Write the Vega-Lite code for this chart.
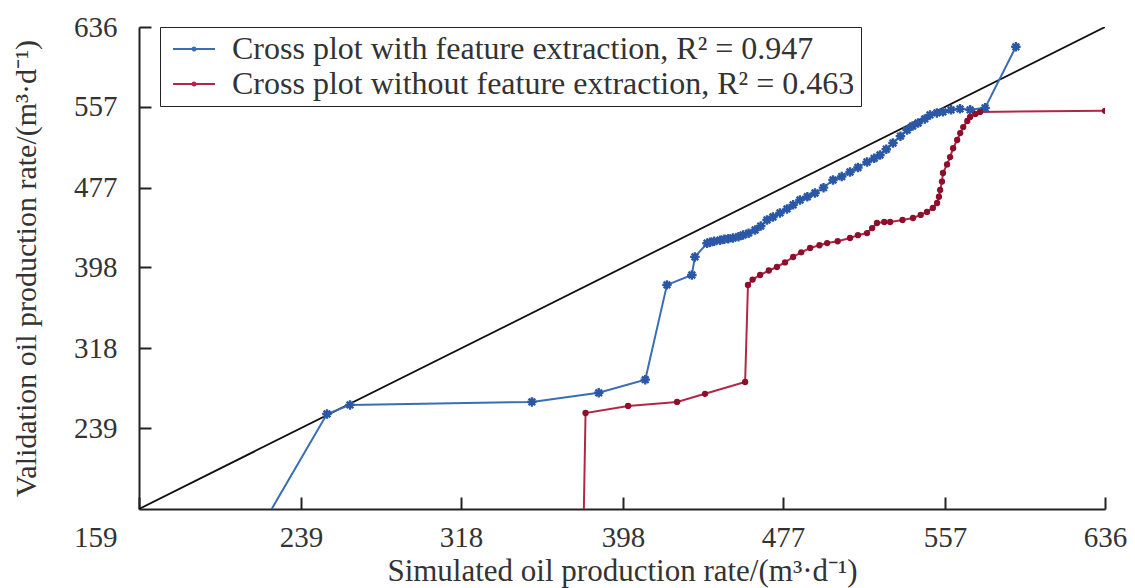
{
  "$schema": "https://vega.github.io/schema/vega-lite/v6.json",
  "width": 966,
  "height": 482,
  "autosize": "none",
  "padding": {"left": 139, "top": 27, "right": 30, "bottom": 79},
  "background": "white",
  "config": {
    "view": {"stroke": null},
    "font": "Liberation Serif",
    "axis": {
      "grid": false,
      "domainColor": "#222",
      "domainWidth": 2,
      "tickColor": "#222",
      "tickWidth": 2,
      "tickSize": -12,
      "labelFont": "Liberation Serif",
      "labelFontSize": 29,
      "labelColor": "#333",
      "titleFont": "Liberation Serif",
      "titleFontWeight": "normal",
      "titleColor": "#333"
    }
  },
  "datasets": {
    "pts": [
      {"series": "with", "i": 0, "sim": 219, "val": 140},
      {"series": "with", "i": 1, "sim": 251.8, "val": 253},
      {"series": "with", "i": 2, "sim": 263.2, "val": 262},
      {"series": "with", "i": 3, "sim": 353, "val": 265},
      {"series": "with", "i": 4, "sim": 386, "val": 274},
      {"series": "with", "i": 5, "sim": 409, "val": 287},
      {"series": "with", "i": 6, "sim": 419.7, "val": 380.8},
      {"series": "with", "i": 7, "sim": 432, "val": 390.6},
      {"series": "with", "i": 8, "sim": 433.5, "val": 408.5},
      {"series": "with", "i": 9, "sim": 439.5, "val": 422},
      {"series": "with", "i": 10, "sim": 441, "val": 423},
      {"series": "with", "i": 11, "sim": 443, "val": 424},
      {"series": "with", "i": 12, "sim": 445.9, "val": 425},
      {"series": "with", "i": 13, "sim": 448, "val": 426},
      {"series": "with", "i": 14, "sim": 450, "val": 426.5},
      {"series": "with", "i": 15, "sim": 452.3, "val": 427.2},
      {"series": "with", "i": 16, "sim": 455, "val": 428.5},
      {"series": "with", "i": 17, "sim": 457.3, "val": 430.2},
      {"series": "with", "i": 18, "sim": 460, "val": 432},
      {"series": "with", "i": 19, "sim": 463.2, "val": 435.1},
      {"series": "with", "i": 20, "sim": 466, "val": 439},
      {"series": "with", "i": 21, "sim": 469.1, "val": 445},
      {"series": "with", "i": 22, "sim": 472, "val": 448},
      {"series": "with", "i": 23, "sim": 475.5, "val": 452},
      {"series": "with", "i": 24, "sim": 479, "val": 456},
      {"series": "with", "i": 25, "sim": 482, "val": 460},
      {"series": "with", "i": 26, "sim": 485.4, "val": 464.8},
      {"series": "with", "i": 27, "sim": 489, "val": 468},
      {"series": "with", "i": 28, "sim": 492.8, "val": 471.7},
      {"series": "with", "i": 29, "sim": 497, "val": 477},
      {"series": "with", "i": 30, "sim": 501.7, "val": 484.6},
      {"series": "with", "i": 31, "sim": 506, "val": 488},
      {"series": "with", "i": 32, "sim": 510.1, "val": 492.5},
      {"series": "with", "i": 33, "sim": 514, "val": 497},
      {"series": "with", "i": 34, "sim": 518.5, "val": 502.4},
      {"series": "with", "i": 35, "sim": 522, "val": 506},
      {"series": "with", "i": 36, "sim": 524.9, "val": 509.3},
      {"series": "with", "i": 37, "sim": 528, "val": 515},
      {"series": "with", "i": 38, "sim": 531.3, "val": 521.2},
      {"series": "with", "i": 39, "sim": 535, "val": 528},
      {"series": "with", "i": 40, "sim": 538.3, "val": 534},
      {"series": "with", "i": 41, "sim": 541, "val": 538},
      {"series": "with", "i": 42, "sim": 543.7, "val": 541},
      {"series": "with", "i": 43, "sim": 547, "val": 545},
      {"series": "with", "i": 44, "sim": 549.6, "val": 549},
      {"series": "with", "i": 45, "sim": 553, "val": 551},
      {"series": "with", "i": 46, "sim": 556, "val": 552},
      {"series": "with", "i": 47, "sim": 560, "val": 554},
      {"series": "with", "i": 48, "sim": 564.4, "val": 555},
      {"series": "with", "i": 49, "sim": 569.4, "val": 554},
      {"series": "with", "i": 50, "sim": 576.8, "val": 556},
      {"series": "with", "i": 51, "sim": 592, "val": 616.4},
      {"series": "without", "i": 0, "sim": 378.5, "val": 140},
      {"series": "without", "i": 1, "sim": 379.5, "val": 254},
      {"series": "without", "i": 2, "sim": 400.5, "val": 261},
      {"series": "without", "i": 3, "sim": 424.7, "val": 265},
      {"series": "without", "i": 4, "sim": 438.5, "val": 273},
      {"series": "without", "i": 5, "sim": 458.3, "val": 284.7},
      {"series": "without", "i": 6, "sim": 459.7, "val": 380.8},
      {"series": "without", "i": 7, "sim": 462, "val": 386},
      {"series": "without", "i": 8, "sim": 465.7, "val": 390.6},
      {"series": "without", "i": 9, "sim": 470, "val": 395},
      {"series": "without", "i": 10, "sim": 474, "val": 398.5},
      {"series": "without", "i": 11, "sim": 478, "val": 403},
      {"series": "without", "i": 12, "sim": 482, "val": 408.4},
      {"series": "without", "i": 13, "sim": 486, "val": 413},
      {"series": "without", "i": 14, "sim": 490.4, "val": 417.3},
      {"series": "without", "i": 15, "sim": 495, "val": 420},
      {"series": "without", "i": 16, "sim": 498.8, "val": 422.2},
      {"series": "without", "i": 17, "sim": 504, "val": 424},
      {"series": "without", "i": 18, "sim": 510.1, "val": 427.2},
      {"series": "without", "i": 19, "sim": 514, "val": 430},
      {"series": "without", "i": 20, "sim": 518.5, "val": 432.1},
      {"series": "without", "i": 21, "sim": 521, "val": 437},
      {"series": "without", "i": 22, "sim": 523.4, "val": 442},
      {"series": "without", "i": 23, "sim": 527, "val": 443},
      {"series": "without", "i": 24, "sim": 529.9, "val": 443},
      {"series": "without", "i": 25, "sim": 536, "val": 445},
      {"series": "without", "i": 26, "sim": 541.2, "val": 447},
      {"series": "without", "i": 27, "sim": 545, "val": 450},
      {"series": "without", "i": 28, "sim": 548.1, "val": 453},
      {"series": "without", "i": 29, "sim": 551, "val": 457},
      {"series": "without", "i": 30, "sim": 553.1, "val": 461.8},
      {"series": "without", "i": 31, "sim": 554, "val": 468},
      {"series": "without", "i": 32, "sim": 554.6, "val": 474.7},
      {"series": "without", "i": 33, "sim": 555.5, "val": 483},
      {"series": "without", "i": 34, "sim": 556, "val": 491.5},
      {"series": "without", "i": 35, "sim": 558, "val": 500},
      {"series": "without", "i": 36, "sim": 559.5, "val": 507.3},
      {"series": "without", "i": 37, "sim": 561, "val": 516},
      {"series": "without", "i": 38, "sim": 563, "val": 524.2},
      {"series": "without", "i": 39, "sim": 564.5, "val": 531},
      {"series": "without", "i": 40, "sim": 566, "val": 537},
      {"series": "without", "i": 41, "sim": 568, "val": 543},
      {"series": "without", "i": 42, "sim": 569.4, "val": 547},
      {"series": "without", "i": 43, "sim": 572, "val": 550},
      {"series": "without", "i": 44, "sim": 574.3, "val": 552},
      {"series": "without", "i": 45, "sim": 636, "val": 553}
    ],
    "diag": [
      {"sim": 159, "val": 159},
      {"sim": 636, "val": 636}
    ]
  },
  "encoding": {
    "x": {
      "field": "sim", "type": "quantitative",
      "scale": {"domain": [159, 636], "nice": false, "zero": false},
      "axis": {
        "values": [159, 239, 318, 398, 477, 557, 636],
        "labelPadding": 26,
        "labelAlign": {"condition": {"test": "datum.value == 159", "value": "right"}, "value": "center"},
        "labelOffset": {"condition": {"test": "datum.value == 159", "value": -22}, "value": 0},
        "title": "Simulated oil production rate/(m³·d⁻¹)",
        "titleFontSize": 31,
        "titlePadding": 4
      }
    },
    "y": {
      "field": "val", "type": "quantitative",
      "scale": {"domain": [159, 636], "nice": false, "zero": false},
      "axis": {
        "values": [239, 318, 398, 477, 557, 636],
        "labelPadding": 34,
        "title": "Validation oil production rate/(m³·d⁻¹)",
        "titleFontSize": 30,
        "titlePadding": 32
      }
    }
  },
  "layer": [
    {
      "data": {"name": "diag"},
      "mark": {"type": "line", "color": "#111", "strokeWidth": 1.8, "clip": true}
    },
    {
      "data": {"name": "pts"},
      "mark": {"type": "line", "strokeWidth": 2, "clip": true},
      "encoding": {
        "order": {"field": "i", "type": "quantitative"},
        "color": {
          "field": "series", "type": "nominal",
          "scale": {
            "domain": ["with", "without"],
            "range": ["#3a6db5", "#b02848"]
          },
          "legend": {
            "title": null,
            "orient": "none",
            "legendX": 21,
            "legendY": 0,
            "direction": "vertical",
            "strokeColor": "#222",
            "fillColor": "white",
            "padding": 6,
            "symbolType": "M-0.9,0H3.3M1.05,0A0.15,0.15 0 1,0 1.35,0A0.15,0.15 0 1,0 1.05,0",
            "symbolSize": 400,
            "symbolStrokeWidth": 2,
            "labelOffset": 34,
            "rowPadding": 3,
            "labelFont": "Liberation Serif",
            "labelFontSize": 32,
            "labelColor": "#333",
            "labelLimit": 900,
            "labelExpr": "datum.value == 'with' ? 'Cross plot with feature extraction, R² = 0.947' : 'Cross plot without feature extraction, R² = 0.463'"
          }
        }
      }
    },
    {
      "data": {"name": "pts"},
      "transform": [{"filter": {"field": "series", "equal": "with"}}],
      "mark": {
        "type": "point",
        "shape": "M-1,0L1,0M0,-1L0,1M-0.7,-0.7L0.7,0.7M-0.7,0.7L0.7,-0.7",
        "filled": false,
        "color": "#2a58a6",
        "strokeWidth": 2.4,
        "size": 90,
        "opacity": 1,
        "clip": true
      }
    },
    {
      "data": {"name": "pts"},
      "transform": [{"filter": {"and": [{"field": "series", "equal": "without"}, {"field": "val", "gt": 159}]}}],
      "mark": {
        "type": "point",
        "shape": "circle",
        "filled": true,
        "color": "#8e0f2c",
        "size": 40,
        "opacity": 1,
        "clip": true
      }
    }
  ]
}
